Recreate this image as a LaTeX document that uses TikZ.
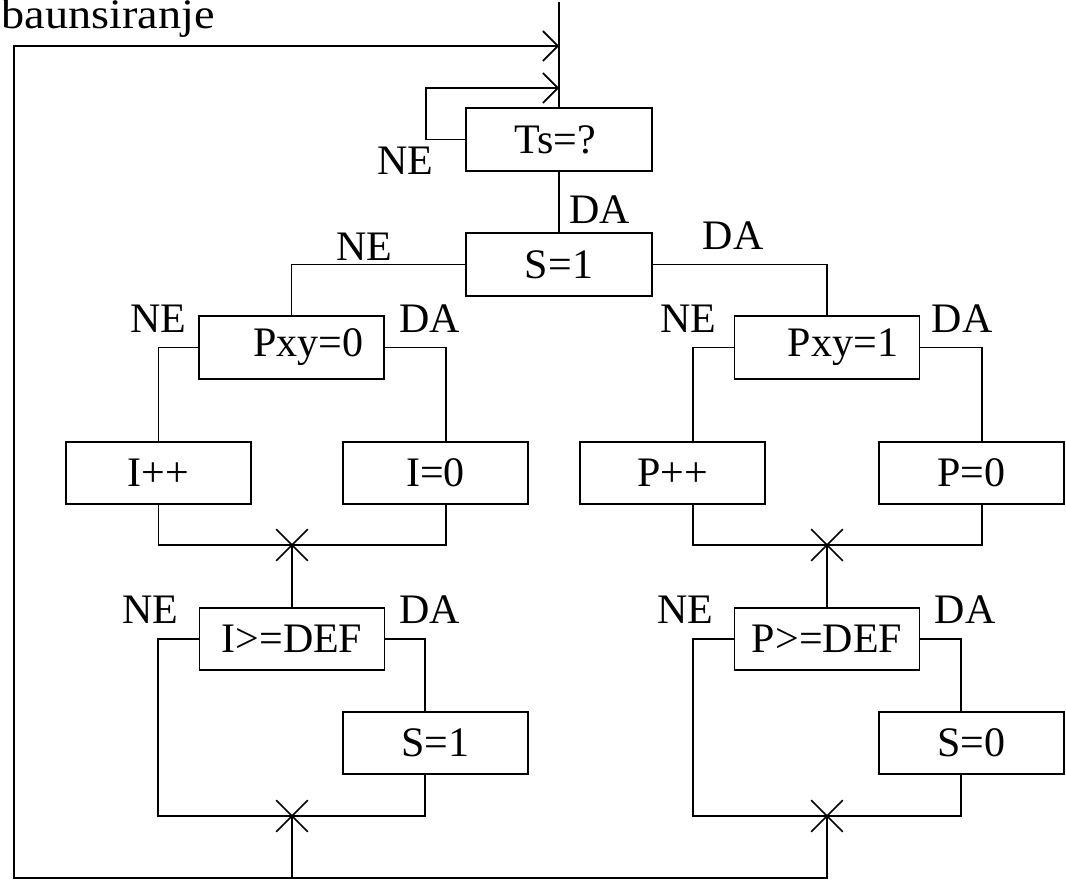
\documentclass[tikz,border=0pt]{standalone}
\usepackage{fontspec}
\setmainfont{Liberation Serif}
\usetikzlibrary{arrows.meta,shapes.misc}
\begin{document}
\begin{tikzpicture}[x=1pt,y=-1pt,line width=1.6pt,
  box/.style={draw,rectangle,minimum width=185pt,minimum height=62pt,inner sep=0pt,font=\fontsize{42pt}{50pt}\selectfont},
  lbl/.style={anchor=base,inner sep=0pt,font=\fontsize{42pt}{50pt}\selectfont},
  xmark/.style={draw,cross out,minimum size=30pt,inner sep=0pt},
  arr/.style={-{Straight Barb[length=15pt,width=30pt,line width=1.6pt]}}]
\useasboundingbox (0,0) rectangle (1066,880);

% boxes
\node[box,minimum width=186pt,minimum height=63pt] (ts) at (559,139.5) {\hspace*{-8pt}Ts=?};
\node[box,minimum width=186pt,minimum height=63pt] (s1) at (559,264.5) {S=1};
\node[box,minimum height=63pt] (pxy0) at (291.5,347.5) {\hspace*{34pt}Pxy=0};
\node[box,minimum height=63pt] (pxy1) at (827,347.5) {\hspace*{32pt}Pxy=1};
\node[box] (ipp) at (158.5,473) {I++};
\node[box] (i0) at (435.5,473) {I=0};
\node[box] (ppp) at (672.5,473) {P++};
\node[box] (p0) at (971.5,473) {P=0};
\node[box] (idef) at (292,639) {I>=DEF};
\node[box] (pdef) at (827,639) {P>=DEF};
\node[box] (s1b) at (435.5,743) {S=1};
\node[box] (s0) at (971.5,743) {S=0};

% merge marks
\node[xmark] (xl1) at (292,545) {};
\node[xmark] (xr1) at (827,545) {};
\node[xmark] (xl2) at (292,816) {};
\node[xmark] (xr2) at (827,816) {};

% helper coordinates
\coordinate (top) at (559,2);
\coordinate (in1) at (559,46);
\coordinate (in2) at (559,88);
\coordinate (lp) at (426,88);
\coordinate (corner) at (14,878);
\coordinate (bj) at (292,878);

% labels
\node[lbl,anchor=base west,xscale=1.1] (deb) at (1,29) {baunsiranje};
\node[lbl] (ne0) at (405,175) {NE};
\node[lbl] (da0) at (599.5,223) {DA};
\node[lbl] (ne1) at (364,260) {NE};
\node[lbl] (da1) at (733,249) {DA};
\node[lbl] (ne2) at (158,332) {NE};
\node[lbl] (da2) at (430,332) {DA};
\node[lbl] (ne3) at (688,332) {NE};
\node[lbl] (da3) at (962,332) {DA};
\node[lbl] (ne4) at (150,623) {NE};
\node[lbl] (da4) at (430,623) {DA};
\node[lbl] (ne5) at (685,623) {NE};
\node[lbl] (da5) at (965,623) {DA};

% connectors
\draw (top) -- (ts.north);
\draw[arr] (ts.west) -| (lp) -- (in2);
\draw (ts.south) -- (s1.north);
\draw (s1.west) -| (pxy0.north);
\draw (s1.east) -| (pxy1.north);

\draw (pxy0.west) -| (ipp.north);
\draw (pxy0.east) -| ([xshift=10.5pt]i0.north);
\draw (pxy1.west) -| ([xshift=20.5pt]ppp.north);
\draw (pxy1.east) -| ([xshift=10.5pt]p0.north);

\draw (ipp.south) |- (xl1.center) -| ([xshift=10.5pt]i0.south);
\draw ([xshift=20.5pt]ppp.south) |- (xr1.center) -| ([xshift=10.5pt]p0.south);
\draw (xl1.center) -- (idef.north);
\draw (xr1.center) -- (pdef.north);

\draw (idef.west) -| ([xshift=-0.5pt]ipp.south |- xl2.center) -- (xl2.center);
\draw (idef.east) -| ([xshift=-10.5pt]s1b.north);
\draw ([xshift=-10.5pt]s1b.south) |- (xl2.center);
\draw (pdef.west) -| ([xshift=20.5pt]ppp.south |- xr2.center) -- (xr2.center);
\draw (pdef.east) -| ([xshift=-10.5pt]s0.north);
\draw ([xshift=-10.5pt]s0.south) |- (xr2.center);

\draw[arr] (xl2.center) |- (corner) |- (in1);
\draw (xr2.center) |- (bj);
\end{tikzpicture}
\end{document}
